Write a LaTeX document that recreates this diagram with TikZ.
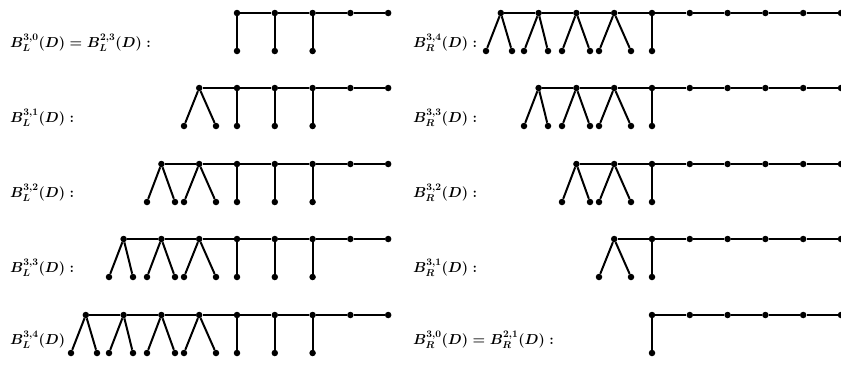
\documentclass[tikz,border=0pt]{standalone}
\tikzset{
  dot/.style={circle,fill=black,inner sep=0pt,minimum size=6.5pt},
  edge/.style={line width=2pt},
  lbl/.style={anchor=west,inner sep=0pt,font=\fontsize{14.5}{17}\selectfont\boldmath}
}
% #1 prefix, #2 x of first vertical, #3 top y, #4 number of forks, #5 verticals, #6 plain vertices
\newcommand\treerow[6]{%
  \pgfmathtruncatemacro\lo{-#4}%
  \pgfmathtruncatemacro\hi{#5+#6-1}%
  \pgfmathtruncatemacro\hm{#5+#6-2}%
  \pgfmathtruncatemacro\vh{#5-1}%
  \foreach \i in {\lo,...,\hi}{\node[dot] (#1t\i) at ({#2+37.8*\i},#3) {};}
  \foreach \i in {\lo,...,\hm}{\pgfmathtruncatemacro\j{\i+1}\draw[edge] (#1t\i) -- (#1t\j);}
  \foreach \i in {0,...,\vh}{\node[dot] (#1b\i) at ({#2+37.8*\i},#3+38) {};
     \draw[edge] (#1t\i) -- (#1b\i);}
  \foreach \j/\l/\r in {1/15.2/16.8,2/14.4/13.6,3/14.6/9.4,4/14.8/11.2}{%
    \ifnum\j>#4\relax\else
      \node[dot] (#1a\j) at ({#2-37.8*\j-\l},#3+38) {};
      \node[dot] (#1c\j) at ({#2-37.8*\j+\r},#3+38) {};
      \draw[edge] (#1a\j) -- (#1t-\j) -- (#1c\j);
    \fi}
}
\begin{document}
\begin{tikzpicture}[x=1pt,y=-1pt]
\useasboundingbox (0,0) rectangle (841,373);
% left column
\node[lbl] (la) at (10,43) {$B_L^{3,0}(D)=B_L^{2,3}(D):$};
\node[lbl] (lb) at (10,118) {$B_L^{3,1}(D):$};
\node[lbl] (lc) at (10,193) {$B_L^{3,2}(D):$};
\node[lbl] (ld) at (10,268) {$B_L^{3,3}(D):$};
\node[lbl] (le) at (10,340) {$B_L^{3,4}(D)$};
\treerow{LA}{237}{13}{0}{3}{2}
\treerow{LB}{237}{88}{1}{3}{2}
\treerow{LC}{237}{164}{2}{3}{2}
\treerow{LD}{237}{239}{3}{3}{2}
\treerow{LE}{237}{315}{4}{3}{2}
% right column
\node[lbl] (ra) at (413,43) {$B_R^{3,4}(D):$};
\node[lbl] (rb) at (413,118) {$B_R^{3,3}(D):$};
\node[lbl] (rc) at (413,193) {$B_R^{3,2}(D):$};
\node[lbl] (rd) at (413,268) {$B_R^{3,1}(D):$};
\node[lbl] (re) at (413,340) {$B_R^{3,0}(D)=B_R^{2,1}(D):$};
\treerow{RA}{652}{13}{4}{1}{5}
\treerow{RB}{652}{88}{3}{1}{5}
\treerow{RC}{652}{164}{2}{1}{5}
\treerow{RD}{652}{239}{1}{1}{5}
\treerow{RE}{652}{315}{0}{1}{5}
\end{tikzpicture}
\end{document}
